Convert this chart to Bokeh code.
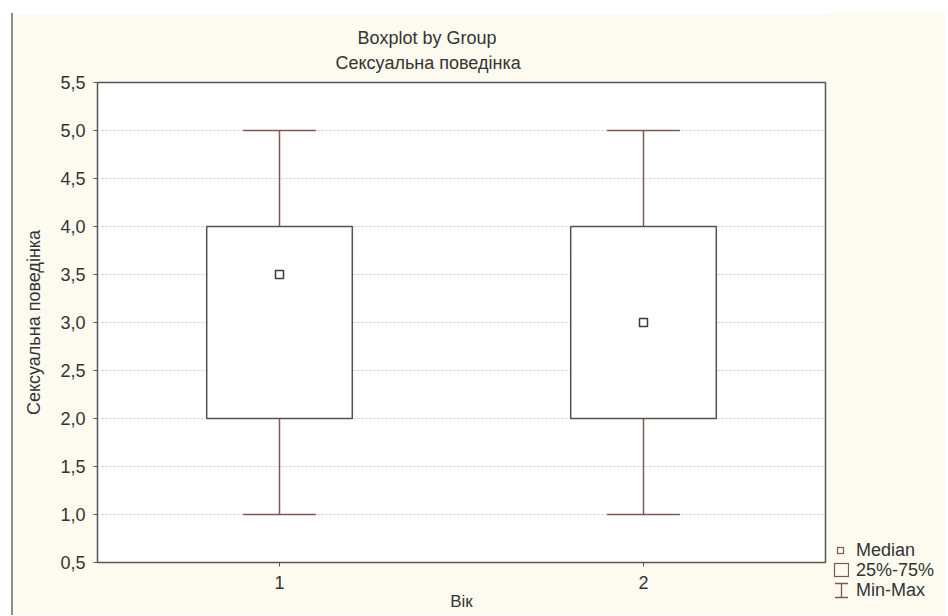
from bokeh.plotting import figure
from bokeh.models import ColumnDataSource, FixedTicker, Title, Div
from bokeh.layouts import row
from bokeh.embed import file_html
from bokeh.resources import INLINE

# ---- data ----
groups = [1, 2]
mins = [1.0, 1.0]
q1 = [2.0, 2.0]
medians = [3.5, 3.0]
q3 = [4.0, 4.0]
maxs = [5.0, 5.0]

y_ticks = [0.5, 1.0, 1.5, 2.0, 2.5, 3.0, 3.5, 4.0, 4.5, 5.0, 5.5]
y_tick_labels = ["0,5", "1,0", "1,5", "2,0", "2,5", "3,0", "3,5", "4,0", "4,5", "5,0", "5,5"]
x_ticks = [1, 2]
x_tick_labels = ["1", "2"]

title_text = "Boxplot by Group"
subtitle_text = "Сексуальна поведінка"
y_label = "Сексуальна поведінка"
x_label = "Вік"
legend_labels = ["Median", "25%-75%", "Min-Max"]

# ---- style ----
FONT = "Liberation Sans"
FS = "18px"
BG = "#fdfbf0"
BOX_COL = "#5a4e4e"
WHISK_COL = "#7d5858"
TXT = "#333333"
BOX_W = 0.4
CAP_W = 0.2

src = ColumnDataSource(dict(
    g=groups, lo=mins, q1=q1, med=medians, q3=q3, hi=maxs,
    cl=[g - CAP_W / 2 for g in groups], cr=[g + CAP_W / 2 for g in groups],
))

p = figure(width=820, height=602, x_range=(0.5, 2.5), y_range=(0.5, 5.5),
           output_backend="svg", toolbar_location=None, title=None,
           min_border_left=84, min_border_right=8, min_border_top=69,
           min_border_bottom=53,
           margin=(13, 0, 0, 11),
           styles={"border-left": "2px solid #8c8c8c"})

p.background_fill_color = "white"
p.border_fill_color = BG
p.outline_line_color = "#555555"
p.outline_line_width = 1.5

# grid
p.xgrid.visible = False
p.ygrid.ticker = FixedTicker(ticks=y_ticks[1:-1])
p.ygrid.grid_line_color = "#c8c8c8"
p.ygrid.grid_line_dash = "2 2"

# axes
p.yaxis.ticker = FixedTicker(ticks=y_ticks)
p.yaxis.major_label_overrides = {t: l for t, l in zip(y_ticks, y_tick_labels)}
p.xaxis.ticker = FixedTicker(ticks=x_ticks)
p.xaxis.major_label_overrides = {t: l for t, l in zip(x_ticks, x_tick_labels)}
for ax in (p.xaxis[0], p.yaxis[0]):
    ax.axis_line_color = "#555555"
    ax.major_tick_line_color = "#555555"
    ax.major_tick_out = 4
    ax.major_tick_in = 0
    ax.minor_tick_line_color = None
    ax.major_label_text_font = FONT
    ax.major_label_text_font_size = FS
    ax.major_label_text_color = TXT
    ax.axis_label_text_font = FONT
    ax.axis_label_text_font_size = FS
    ax.axis_label_text_font_style = "normal"
    ax.axis_label_text_color = TXT
p.yaxis.axis_label = y_label
p.xaxis.axis_label = x_label
p.xaxis.axis_label_text_font_size = "17px"
p.yaxis.major_label_standoff = 8
p.xaxis.major_label_standoff = 9
p.yaxis.axis_label_standoff = 13
p.xaxis.axis_label_standoff = 0

# titles
p.add_layout(Title(text=subtitle_text, align="left", offset=238, text_font=FONT,
                   text_font_size=FS, text_font_style="normal",
                   text_color=TXT, standoff=20), "above")
p.add_layout(Title(text=title_text, align="left", offset=260, text_font=FONT,
                   text_font_size=FS, text_font_style="normal",
                   text_color=TXT, standoff=-14), "above")

# whiskers
p.segment(x0="g", y0="q3", x1="g", y1="hi", source=src, line_color=WHISK_COL, line_width=1.5)
p.segment(x0="g", y0="lo", x1="g", y1="q1", source=src, line_color=WHISK_COL, line_width=1.5)
p.segment(x0="cl", y0="hi", x1="cr", y1="hi", source=src, line_color=WHISK_COL, line_width=1.5)
p.segment(x0="cl", y0="lo", x1="cr", y1="lo", source=src, line_color=WHISK_COL, line_width=1.5)

# boxes
p.vbar(x="g", bottom="q1", top="q3", width=BOX_W, source=src,
       fill_color="white", line_color=BOX_COL, line_width=1.5)

# medians
p.scatter(x="g", y="med", source=src, marker="square", size=8,
          fill_color="white", line_color="#3a3a3a", line_width=1.5)

# ---- legend panel (key symbols + real text) ----
sym_med = (f'<svg width="16" height="20" style="display:block">'
           f'<rect x="4.5" y="7.5" width="6" height="6" fill="none" stroke="{WHISK_COL}" stroke-width="1.2"/></svg>')
sym_box = (f'<svg width="16" height="20" style="display:block">'
           f'<rect x="1.5" y="3.5" width="14" height="13" fill="none" stroke="{WHISK_COL}" stroke-width="1.2"/></svg>')
sym_mm = (f'<svg width="16" height="20" style="display:block">'
          f'<path d="M2 3.5 H15 M8.5 3.5 V17.5 M2 17.5 H15" fill="none" stroke="{WHISK_COL}" stroke-width="1.3"/></svg>')

def leg_row(sym, label):
    return (f'<div style="display:flex;align-items:center;height:20px;">'
            f'<div style="width:16px;height:20px;">{sym}</div>'
            f'<span style="margin-left:7px;line-height:20px;">{label}</span></div>')

legend_html = (
    f'<div style="position:relative;width:114px;height:602px;background:{BG};'
    f'font-family:\'{FONT}\';font-size:{FS};color:{TXT};">'
    f'<div style="position:absolute;left:2px;top:527px;">'
    + leg_row(sym_med, legend_labels[0])
    + leg_row(sym_box, legend_labels[1])
    + leg_row(sym_mm, legend_labels[2])
    + '</div></div>'
)
legend_div = Div(text=legend_html, width=114, height=602, margin=(13, 0, 0, 0),
                 styles={"background-color": BG})

layout = row(p, legend_div, spacing=0)

open("out.html", "w").write(file_html(layout, INLINE))
